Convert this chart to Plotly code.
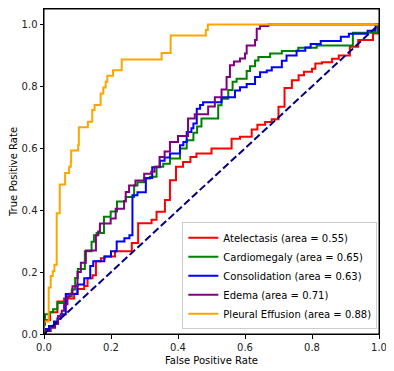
import plotly.graph_objects as go

# ROC step corners: (fpr where the curve rises, tpr after the rise)
atelectasis_fpr = [0, 0, 0.018, 0.04, 0.06, 0.09, 0.1, 0.12, 0.13, 0.145, 0.155, 0.17, 0.182, 0.212,
                   0.262, 0.281, 0.321, 0.336, 0.361, 0.376, 0.394, 0.415, 0.437, 0.455, 0.5, 0.56,
                   0.585, 0.62, 0.637, 0.66, 0.68, 0.70, 0.718, 0.74, 0.76, 0.776, 0.8, 0.81, 0.83,
                   0.86, 0.88, 0.913, 0.938, 0.982, 0.997, 1.0]
atelectasis_tpr = [0, 0.045, 0.07, 0.105, 0.115, 0.13, 0.145, 0.155, 0.18, 0.19, 0.235, 0.245, 0.25,
                   0.267, 0.294, 0.358, 0.369, 0.395, 0.433, 0.497, 0.54, 0.556, 0.572, 0.583, 0.599,
                   0.631, 0.637, 0.661, 0.676, 0.685, 0.694, 0.734, 0.795, 0.82, 0.836, 0.847, 0.857,
                   0.874, 0.878, 0.889, 0.9, 0.928, 0.95, 0.971, 1.0, 1.0]

cardiomegaly_fpr = [0, 0, 0.003, 0.018, 0.027, 0.04, 0.068, 0.083, 0.093, 0.101, 0.122, 0.142, 0.149,
                    0.157, 0.179, 0.199, 0.218, 0.244, 0.269, 0.279, 0.299, 0.316, 0.336, 0.356, 0.376,
                    0.406, 0.426, 0.446, 0.457, 0.47, 0.52, 0.53, 0.55, 0.563, 0.575, 0.605, 0.615,
                    0.63, 0.64, 0.675, 0.71, 0.759, 0.814, 0.922, 0.998, 1.0]
cardiomegaly_tpr = [0, 0.03, 0.064, 0.07, 0.08, 0.10, 0.122, 0.144, 0.181, 0.21, 0.267, 0.298, 0.319,
                    0.326, 0.379, 0.396, 0.428, 0.443, 0.48, 0.49, 0.502, 0.508, 0.54, 0.55, 0.567,
                    0.599, 0.626, 0.65, 0.67, 0.696, 0.739, 0.76, 0.788, 0.815, 0.825, 0.85, 0.865,
                    0.884, 0.895, 0.906, 0.914, 0.925, 0.932, 0.973, 1.0, 1.0]

consolidation_fpr = [0, 0, 0.006, 0.015, 0.03, 0.04, 0.05, 0.065, 0.1, 0.12, 0.138, 0.147, 0.18, 0.2,
                     0.217, 0.24, 0.255, 0.264, 0.279, 0.304, 0.323, 0.346, 0.36, 0.376, 0.406, 0.416,
                     0.426, 0.44, 0.446, 0.456, 0.466, 0.475, 0.53, 0.57, 0.585, 0.605, 0.63, 0.645,
                     0.665, 0.68, 0.71, 0.724, 0.754, 0.78, 0.796, 0.826, 0.886, 0.91, 0.966, 0.99, 1.0]
consolidation_tpr = [0, 0.006, 0.016, 0.026, 0.04, 0.05, 0.064, 0.129, 0.16, 0.18, 0.22, 0.235, 0.25,
                     0.267, 0.299, 0.309, 0.319, 0.448, 0.458, 0.504, 0.539, 0.56, 0.57, 0.583, 0.61,
                     0.62, 0.653, 0.665, 0.68, 0.728, 0.74, 0.749, 0.765, 0.787, 0.797, 0.808, 0.83,
                     0.846, 0.851, 0.862, 0.883, 0.9, 0.915, 0.926, 0.937, 0.947, 0.96, 0.97, 0.98,
                     1.0, 1.0]

edema_fpr = [0, 0.005, 0.02, 0.033, 0.042, 0.053, 0.06, 0.07, 0.076, 0.085, 0.1, 0.11, 0.125, 0.155,
             0.162, 0.167, 0.199, 0.214, 0.239, 0.244, 0.254, 0.273, 0.299, 0.32, 0.33, 0.345, 0.36,
             0.376, 0.4, 0.43, 0.45, 0.49, 0.51, 0.53, 0.545, 0.555, 0.567, 0.585, 0.6, 0.605, 0.63,
             0.635, 0.645, 0.67, 1.0]
edema_tpr = [0, 0.01, 0.02, 0.032, 0.058, 0.075, 0.096, 0.12, 0.13, 0.154, 0.2, 0.23, 0.27, 0.319,
             0.331, 0.357, 0.373, 0.405, 0.43, 0.459, 0.48, 0.496, 0.518, 0.524, 0.54, 0.572, 0.59,
             0.62, 0.64, 0.696, 0.71, 0.735, 0.765, 0.79, 0.83, 0.868, 0.88, 0.89, 0.906, 0.932,
             0.95, 0.986, 0.995, 1.0, 1.0]

effusion_fpr = [0, 0, 0.014, 0.02, 0.026, 0.031, 0.038, 0.047, 0.063, 0.075, 0.08, 0.081, 0.102,
                0.104, 0.131, 0.144, 0.151, 0.169, 0.177, 0.184, 0.189, 0.206, 0.232, 0.351, 0.378,
                0.483, 0.489, 1.0]
effusion_tpr = [0, 0.04, 0.15, 0.187, 0.203, 0.224, 0.39, 0.483, 0.52, 0.54, 0.557, 0.593, 0.611,
                0.668, 0.686, 0.724, 0.74, 0.777, 0.796, 0.815, 0.834, 0.852, 0.887, 0.908, 0.964,
                0.982, 1.0, 1.0]

labels = ["Atelectasis", "Cardiomegaly", "Consolidation", "Edema", "Pleural Effusion"]
aucs = [0.55, 0.65, 0.63, 0.71, 0.88]
colors = ["red", "green", "blue", "purple", "orange"]
curves = [
    (atelectasis_fpr, atelectasis_tpr),
    (cardiomegaly_fpr, cardiomegaly_tpr),
    (consolidation_fpr, consolidation_tpr),
    (edema_fpr, edema_tpr),
    (effusion_fpr, effusion_tpr),
]

fig = go.Figure()

for (fpr, tpr), name, auc, color in zip(curves, labels, aucs, colors):
    fig.add_trace(go.Scatter(
        x=fpr, y=tpr, mode="lines", line_shape="hv",
        line=dict(color=color, width=2),
        name=f"{name} (area = {auc:.2f})",
    ))

# chance line
fig.add_trace(go.Scatter(
    x=[0, 1], y=[0, 1], mode="lines",
    line=dict(color="navy", width=2, dash="7.4px,3.2px"),
    showlegend=False,
))

axis_style = dict(
    showline=True, linecolor="black", linewidth=1, mirror=True,
    ticks="outside", ticklen=3.5, tickcolor="black", tickwidth=1,
    showgrid=False, zeroline=False, tickformat=".1f", automargin=False,
    ticklabeloverflow="allow",
    tickfont=dict(size=10, color="#222222"),
)

# the page body adds an 8px offset, so the figure is sized/margined to land
# the plot area at the same pixels as the reference
fig.update_layout(
    width=386, height=364,
    margin=dict(l=36, r=15, t=1, b=38),
    plot_bgcolor="white", paper_bgcolor="white",
    font=dict(family="DejaVu Sans", size=10, color="black"),
    xaxis=dict(range=[0, 1], dtick=0.2,
               title=dict(text="False Positive Rate", standoff=5, font=dict(size=10)),
               **axis_style),
    yaxis=dict(range=[0, 1.05], dtick=0.2,
               title=dict(text="True Positive Rate", standoff=8, font=dict(size=10)),
               **axis_style),
    legend=dict(
        x=0.995, y=0.015, xanchor="right", yanchor="bottom",
        bgcolor="rgba(255,255,255,0.8)", bordercolor="#cccccc", borderwidth=1,
        font=dict(size=10), tracegroupgap=0,
    ),
    showlegend=True,
)

# axes frame (matplotlib draws all four spines)
fig.add_shape(type="rect", xref="paper", yref="paper", x0=0, y0=0, x1=1, y1=1,
              line=dict(color="black", width=1), layer="above")

fig.write_html("out.html")
